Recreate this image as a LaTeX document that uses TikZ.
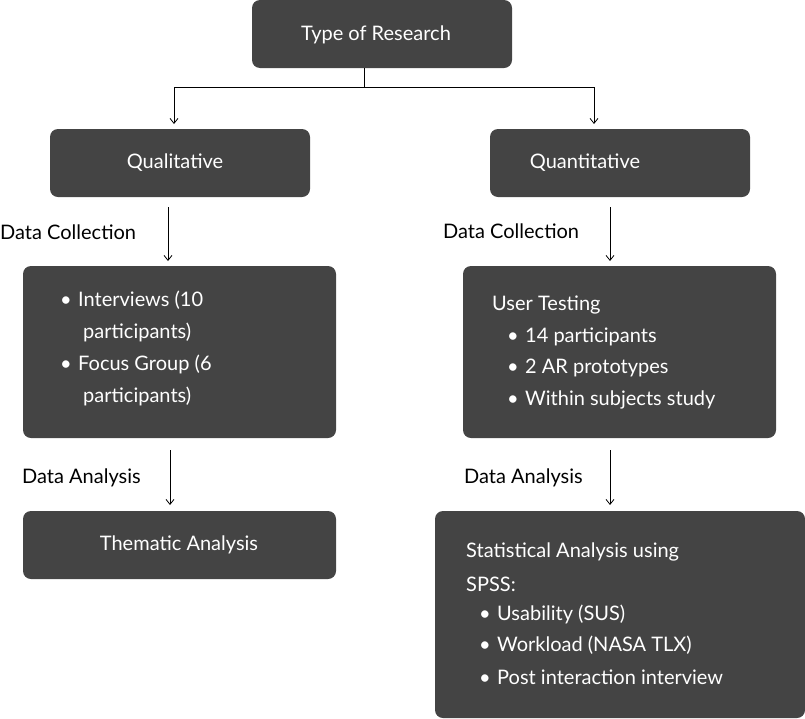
\documentclass[tikz,border=0pt]{standalone}
\usepackage{fontspec}
\setmainfont{Lato}
\usetikzlibrary{arrows.meta}
\definecolor{boxc}{HTML}{444444}
\tikzset{
  box/.style={fill=boxc,rounded corners=8pt,draw=none},
  wt/.style={text=white,font=\fontsize{20}{24}\selectfont,inner sep=0pt,anchor=west},
  bt/.style={text=black,font=\fontsize{20}{24}\selectfont,inner sep=0pt,anchor=west},
  arr/.style={-{Straight Barb[length=5pt,width=8pt]},line width=0.8pt},
}
\newcommand{\bl}{\makebox[18pt][l]{\textbullet}}
\begin{document}
\begin{tikzpicture}[x=1pt,y=-1pt]
\useasboundingbox (0,0) rectangle (805,718);
\fill[box] (252,0) rectangle (512,68);
\node[wt,anchor=center] (t) at (376,35) {Type of Research};
\fill[box] (50,129) rectangle (310,197);
\node[wt,anchor=center] (ql) at (175,163) {Qualitative};
\fill[box] (490,129) rectangle (750,197);
\node[wt,anchor=center] (qn) at (585,163) {Quantitative};
\fill[box] (23,266) rectangle (336,438);
\fill[box] (463,266) rectangle (776,438);
\fill[box] (23,511) rectangle (336,579);
\node[wt,anchor=center] (th) at (179,545) {Thematic Analysis};
\fill[box] (435,511) rectangle (805,718);

\coordinate (a0) at (364,68);
\coordinate (a1) at (364,87);
\coordinate (l1) at (174,87);
\coordinate (r1) at (594,87);
\coordinate (l2) at (174,124);
\coordinate (r2) at (594,124);
\draw[line width=0.8pt] (a0) -- (a1) (l1) -- (r1);
\draw[arr] (l1) -- (l2);
\draw[arr] (r1) -- (r2);

\coordinate (c1) at (168,207); \coordinate (c2) at (168,261);
\coordinate (c3) at (610,207); \coordinate (c4) at (610,261);
\coordinate (c5) at (170,450); \coordinate (c6) at (170,505);
\coordinate (c7) at (610,450); \coordinate (c8) at (610,505);
\draw[arr] (c1) -- (c2);
\draw[arr] (c3) -- (c4);
\draw[arr] (c5) -- (c6);
\draw[arr] (c7) -- (c8);

\node[bt] (dc1) at (0,232) {Data Collection};
\node[bt] (dc2) at (443,231) {Data Collection};
\node[bt] (da1) at (22,478) {Data Analysis};
\node[bt] (da2) at (464,478) {Data Analysis};

\node[wt] (l1a) at (60,300) {\bl Interviews (10};
\node[wt] (l1b) at (83,332) {participants)};
\node[wt] (l1c) at (60,364) {\bl Focus Group (6};
\node[wt] (l1d) at (83,396) {participants)};

\node[wt] (r1a) at (492,305) {User Testing};
\node[wt] (r1b) at (507,337) {\bl 14 participants};
\node[wt] (r1c) at (507,368) {\bl 2 AR prototypes};
\node[wt] (r1d) at (507,400) {\bl Within subjects study};

\node[wt] (s1) at (466,552) {Statistical Analysis using};
\node[wt] (s2) at (466,584) {SPSS:};
\node[wt] (s3) at (479,614) {\bl Usability (SUS)};
\node[wt] (s4) at (479,645) {\bl Workload (NASA TLX)};
\node[wt] (s5) at (479,677) {\bl Post interaction interview};
\end{tikzpicture}
\end{document}
